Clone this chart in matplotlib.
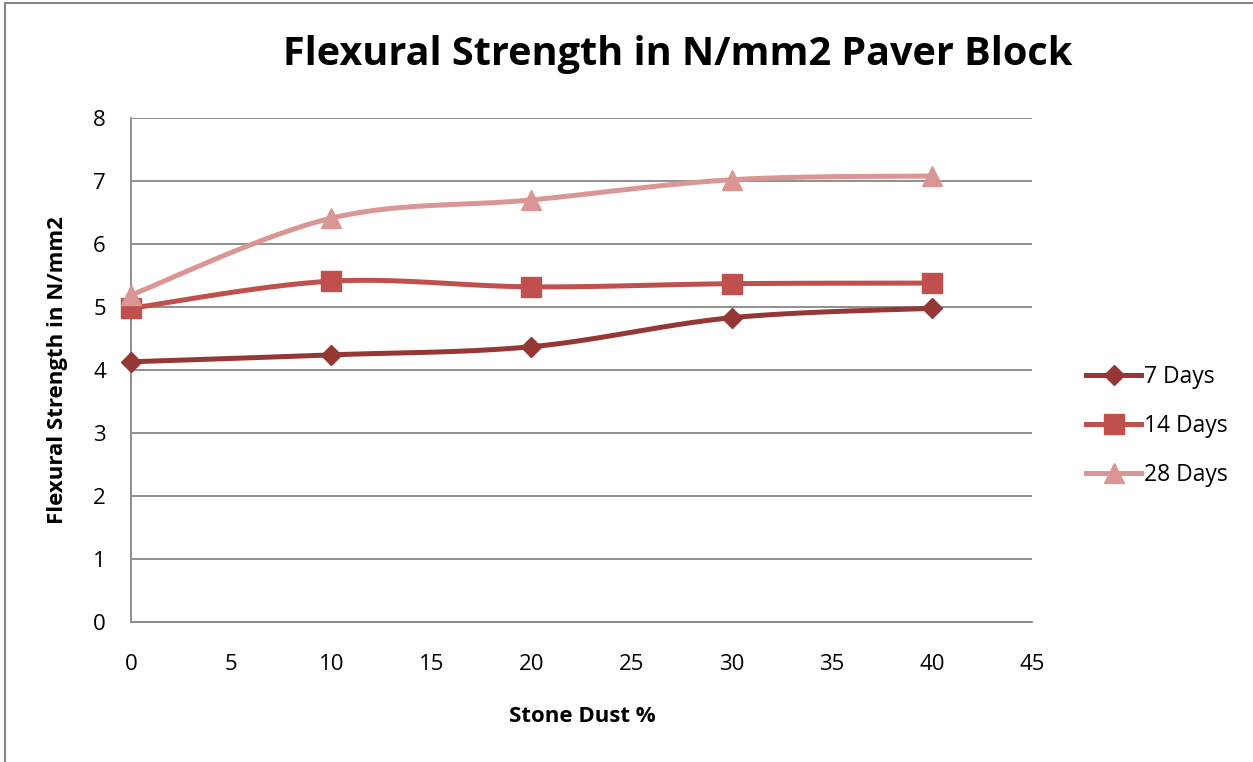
import numpy as np
import matplotlib
matplotlib.use("Agg")
import matplotlib.pyplot as plt
from matplotlib.lines import Line2D

plt.rcParams['font.family'] = ['Open Sans', 'DejaVu Sans']

stone_dust = [0, 10, 20, 30, 40]
days7 = [4.13, 4.24, 4.37, 4.83, 4.98]
days14 = [4.98, 5.41, 5.32, 5.37, 5.38]
days28 = [5.19, 6.41, 6.70, 7.02, 7.08]
labels = ["7 Days", "14 Days", "28 Days"]
colors = ["#953735", "#C0504D", "#D99694"]
markers = ["D", "s", "^"]
msizes = [10.5, 14, 14.5]

W, H = 1253, 762


def smooth(xs, ys, n=30):
    # excel-like smoothed line: bezier with control points from neighbours
    P = np.column_stack([np.asarray(xs, float), np.asarray(ys, float)])
    out = []
    for i in range(len(P) - 1):
        p0 = P[i - 1] if i > 0 else P[i]
        p1 = P[i]
        p2 = P[i + 1]
        p3 = P[i + 2] if i + 2 < len(P) else P[i + 1]
        c1 = p1 + (p2 - p0) / 6.0
        c2 = p2 - (p3 - p1) / 6.0
        t = np.linspace(0, 1, n)[:, None]
        seg = (1 - t) ** 3 * p1 + 3 * (1 - t) ** 2 * t * c1 + 3 * (1 - t) * t ** 2 * c2 + t ** 3 * p2
        out.append(seg if i == 0 else seg[1:])
    out = np.vstack(out)
    return out[:, 0], out[:, 1]


fig = plt.figure(figsize=(W / 100, H / 100), dpi=100)
ax = fig.add_axes([131 / W, 1 - 622 / H, (1032 - 131) / W, (622 - 118) / H])

handles = []
for ys, lab, c, m, ms in zip([days7, days14, days28], labels, colors, markers, msizes):
    sx, sy = smooth(stone_dust, ys)
    ax.plot(sx, sy, color=c, lw=3.6, solid_capstyle="round", zorder=3)
    ax.plot(stone_dust, ys, ls="none", marker=m, ms=ms, color=c, zorder=4, clip_on=False)
    handles.append(Line2D([], [], color=c, lw=3.6, marker=m, ms=ms))

ax.set_xlim(0, 45)
ax.set_ylim(0, 8)
ax.set_xticks(range(0, 50, 5))
ax.set_yticks(range(0, 9))
ax.grid(axis="y", color="#878787", lw=1.3)
ax.set_axisbelow(True)
for s in ["top", "right"]:
    ax.spines[s].set_visible(False)
for s in ["left", "bottom"]:
    ax.spines[s].set_color("#878787")
    ax.spines[s].set_linewidth(1.3)
ax.tick_params(length=0, labelsize=16)
ax.tick_params(axis="x", pad=23)
ax.tick_params(axis="y", pad=18)

fig.text(582 / W, 1 - 717 / H, "Stone Dust %", ha="center", va="center",
         fontsize=16, fontweight="bold")
fig.text(57 / W, 1 - 370 / H, "Flexural Strength in N/mm2", ha="center", va="center",
         rotation=90, fontsize=16, fontweight="bold")

fig.text(678 / W, 1 - 55 / H, "Flexural Strength in N/mm2 Paver Block", ha="center", va="center",
         fontsize=28.5, fontweight="bold")

fig.legend(handles, labels, loc="center left", bbox_to_anchor=(1086 / W, 1 - 426 / H),
           frameon=False, fontsize=16.5, handlelength=2.4, labelspacing=1.07,
           handletextpad=0.15, borderpad=0, borderaxespad=0)

# outer chart border
fig.add_artist(Line2D([5 / W, 5 / W], [0, 1 - 3 / H], color="#878787", lw=1.5, transform=fig.transFigure))
fig.add_artist(Line2D([5 / W, 1], [1 - 3 / H, 1 - 3 / H], color="#878787", lw=1.5, transform=fig.transFigure))

fig.savefig("out.png", dpi=100)
plt.close(fig)
